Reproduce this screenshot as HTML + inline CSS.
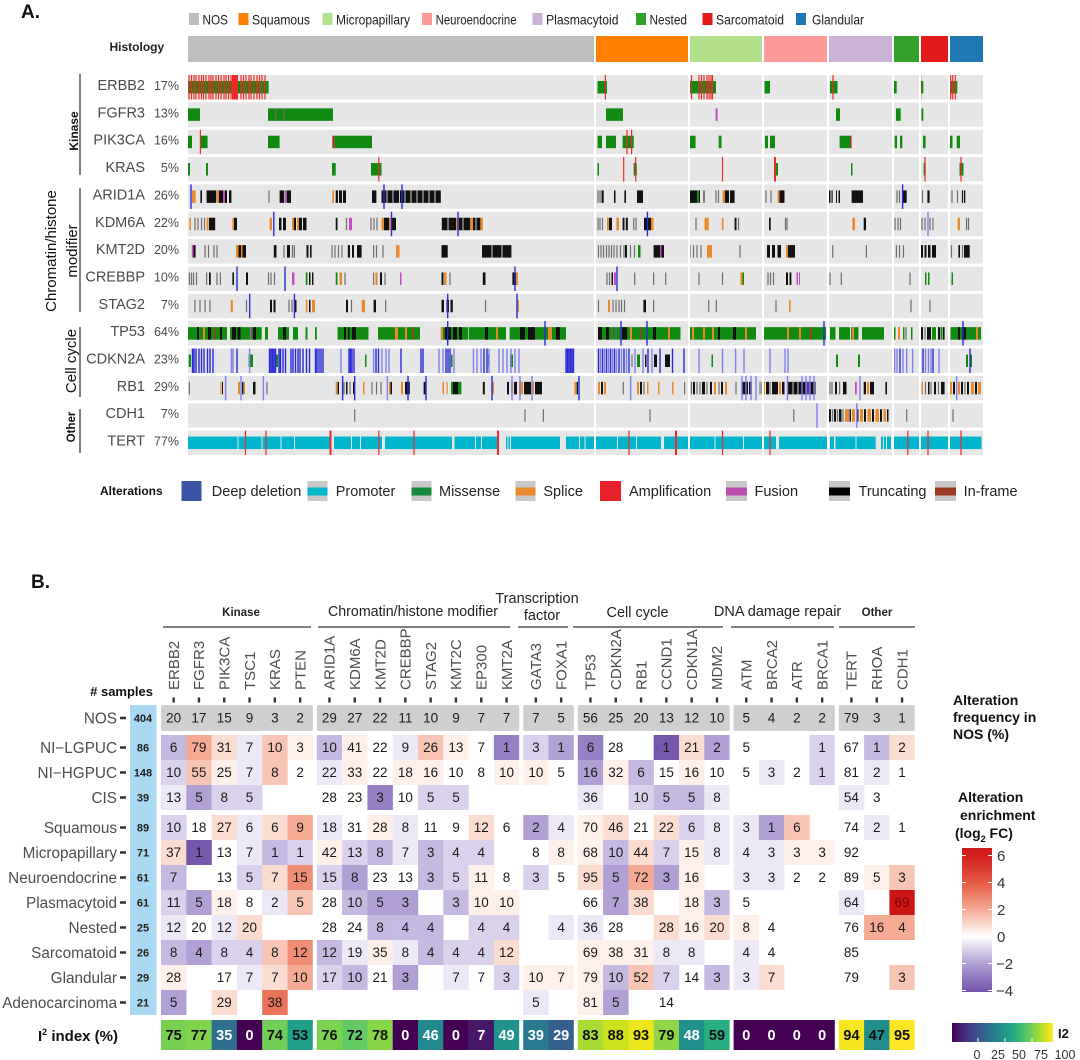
<!DOCTYPE html>
<html><head><meta charset="utf-8"><style>
html,body{margin:0;padding:0;background:#fff}
svg{display:block}
text{font-family:"Liberation Sans",Arial,sans-serif}
.G{fill:#118a11}.K{fill:#111}.O{fill:#e8892c}.C{fill:#00b5cc}.M{fill:#c04ec0}.W{fill:#9b3b22}.R{fill:#ee2b2b}
.lg{stroke:#6e6e6e;stroke-width:1.2;fill:none}
.lb{stroke:#2a2ad8;stroke-width:1.4;fill:none}
.lbl{stroke:#7f7ff0;stroke-width:1.4;fill:none}
.lr{stroke:#ee2b2b;stroke-width:1.2;fill:none}
.lm{stroke:#c04ec0;stroke-width:2;fill:none}
.lw{stroke:#fff;stroke-width:0.8;fill:none}
.bg{fill:#e6e6e6}
.n4{fill:#7557ab}.n3{fill:#9580c3}.n2{fill:#b1a0d4}.n15{fill:#c6b9e1}.n1{fill:#dad1ec}.n05{fill:#ece8f5}
.p05{fill:#fdefea}.p1{fill:#fbdcd1}.p15{fill:#f8c5b5}.p2{fill:#f4aa93}.p3{fill:#ef8e74}.p35{fill:#ea7359}.p6{fill:#cc1616}
.gl{font-size:14.5px;fill:#4a4a4a}
.pc{font-size:12.5px;fill:#4a4a4a}
.cn{font-size:13.5px;fill:#1a1a1a}
.i2{font-size:14.5px;font-weight:bold}
</style></head><body>
<svg width="1080" height="1060" viewBox="0 0 1080 1060" xmlns="http://www.w3.org/2000/svg">
<defs>
<linearGradient id="enr" x1="0" y1="0" x2="0" y2="1">
<stop offset="0" stop-color="#cc1a1a"/><stop offset="0.052" stop-color="#d21f1f"/><stop offset="0.24" stop-color="#e55a45"/><stop offset="0.427" stop-color="#f5aa93"/><stop offset="0.615" stop-color="#ffffff"/><stop offset="0.802" stop-color="#b1a0d4"/><stop offset="0.99" stop-color="#7557ab"/><stop offset="1" stop-color="#7254a9"/>
</linearGradient>
<linearGradient id="vir" x1="0" y1="0" x2="1" y2="0">
<stop offset="0" stop-color="#440154"/><stop offset="0.1" stop-color="#482475"/><stop offset="0.2" stop-color="#414487"/><stop offset="0.3" stop-color="#355f8d"/><stop offset="0.4" stop-color="#2a788e"/><stop offset="0.5" stop-color="#21918c"/><stop offset="0.6" stop-color="#22a884"/><stop offset="0.7" stop-color="#44bf70"/><stop offset="0.8" stop-color="#7ad151"/><stop offset="0.9" stop-color="#bddf26"/><stop offset="1" stop-color="#fde725"/>
</linearGradient>
</defs>

<!-- ============ PANEL A ============ -->
<text x="21" y="18" font-size="19" font-weight="bold" fill="#111">A.</text>

<!-- histology legend -->
<rect x="189" y="13" width="10" height="12" fill="#bdbdbd"/><text x="202.5" y="24.5" font-size="14" fill="#222" textLength="25.5" lengthAdjust="spacingAndGlyphs">NOS</text>
<rect x="238.5" y="13" width="10" height="12" fill="#ff7f00"/><text x="252" y="24.5" font-size="14" fill="#222" textLength="58" lengthAdjust="spacingAndGlyphs">Squamous</text>
<rect x="322.5" y="13" width="10" height="12" fill="#b2df8a"/><text x="336" y="24.5" font-size="14" fill="#222" textLength="74" lengthAdjust="spacingAndGlyphs">Micropapillary</text>
<rect x="422" y="13" width="10" height="12" fill="#fb9a99"/><text x="435.6" y="24.5" font-size="14" fill="#222" textLength="81" lengthAdjust="spacingAndGlyphs">Neuroendocrine</text>
<rect x="532.5" y="13" width="10" height="12" fill="#cab2d6"/><text x="546" y="24.5" font-size="14" fill="#222" textLength="72.5" lengthAdjust="spacingAndGlyphs">Plasmacytoid</text>
<rect x="636" y="13" width="10" height="12" fill="#33a02c"/><text x="649.5" y="24.5" font-size="14" fill="#222" textLength="37.5" lengthAdjust="spacingAndGlyphs">Nested</text>
<rect x="702.5" y="13" width="10" height="12" fill="#e31a1c"/><text x="716" y="24.5" font-size="14" fill="#222" textLength="68" lengthAdjust="spacingAndGlyphs">Sarcomatoid</text>
<rect x="796" y="13" width="10" height="12" fill="#1f78b4"/><text x="812" y="24.5" font-size="14" fill="#222" textLength="52" lengthAdjust="spacingAndGlyphs">Glandular</text>

<!-- histology bar -->
<text x="109.5" y="51" font-size="12" font-weight="bold" fill="#222">Histology</text>
<rect x="188" y="36" width="406" height="26" fill="#bdbdbd"/>
<rect x="596" y="36" width="92" height="26" fill="#ff7f00"/>
<rect x="690" y="36" width="72" height="26" fill="#b2df8a"/>
<rect x="764" y="36" width="63" height="26" fill="#fb9a99"/>
<rect x="829" y="36" width="63" height="26" fill="#cab2d6"/>
<rect x="894" y="36" width="25" height="26" fill="#33a02c"/>
<rect x="921" y="36" width="27" height="26" fill="#e31a1c"/>
<rect x="950" y="36" width="33" height="26" fill="#1f78b4"/>

<!-- group labels left -->
<line x1="80" y1="74" x2="80" y2="175" stroke="#555" stroke-width="1.5"/>
<text transform="translate(78,131) rotate(-90)" text-anchor="middle" font-size="12" font-weight="bold" fill="#111">Kinase</text>
<line x1="80" y1="188" x2="80" y2="312" stroke="#555" stroke-width="1.5"/>
<text transform="translate(56,251) rotate(-90)" text-anchor="middle" font-size="15" fill="#111">Chromatin/histone</text>
<text transform="translate(77,251) rotate(-90)" text-anchor="middle" font-size="15" fill="#111">modifier</text>
<line x1="80" y1="327" x2="80" y2="397" stroke="#555" stroke-width="1.5"/>
<text transform="translate(76,361) rotate(-90)" text-anchor="middle" font-size="15" fill="#111">Cell cycle</text>
<line x1="80" y1="409" x2="80" y2="453" stroke="#555" stroke-width="1.5"/>
<text transform="translate(75,427) rotate(-90)" text-anchor="middle" font-size="11.5" font-weight="bold" fill="#111">Other</text>

<!-- gene labels -->
<g text-anchor="end">
<text class="gl" x="145" y="90">ERBB2</text><text class="pc" x="179" y="90">17%</text>
<text class="gl" x="145" y="117.4">FGFR3</text><text class="pc" x="179" y="117.4">13%</text>
<text class="gl" x="145" y="144.7">PIK3CA</text><text class="pc" x="179" y="144.7">16%</text>
<text class="gl" x="145" y="172">KRAS</text><text class="pc" x="179" y="172">5%</text>
<text class="gl" x="145" y="199.4">ARID1A</text><text class="pc" x="179" y="199.4">26%</text>
<text class="gl" x="145" y="226.8">KDM6A</text><text class="pc" x="179" y="226.8">22%</text>
<text class="gl" x="145" y="254.1">KMT2D</text><text class="pc" x="179" y="254.1">20%</text>
<text class="gl" x="145" y="281.5">CREBBP</text><text class="pc" x="179" y="281.5">10%</text>
<text class="gl" x="145" y="308.8">STAG2</text><text class="pc" x="179" y="308.8">7%</text>
<text class="gl" x="145" y="336.2">TP53</text><text class="pc" x="179" y="336.2">64%</text>
<text class="gl" x="145" y="363.5">CDKN2A</text><text class="pc" x="179" y="363.5">23%</text>
<text class="gl" x="145" y="390.9">RB1</text><text class="pc" x="179" y="390.9">29%</text>
<text class="gl" x="145" y="418.2">CDH1</text><text class="pc" x="179" y="418.2">7%</text>
<text class="gl" x="145" y="445.6">TERT</text><text class="pc" x="179" y="445.6">77%</text>
</g>

<!-- Row 0 ERBB2 -->
<g transform="translate(0,75)">
<rect class="bg" x="188" width="795" height="24.5"/>
<rect x="188" y="6" width="80.6" height="12.5" class="G"/>
<rect x="232" width="6" height="24.5" class="R"/>
<path class="lr" d="M189 0v24.5M191.5 0v24.5M194 0v24.5M196 0v24.5M199 0v24.5M201.5 0v24.5M203.5 0v24.5M206 0v24.5M209 0v24.5M211 0v24.5M213 0v24.5M216 0v24.5M218.5 0v24.5M221 0v24.5M224 0v24.5M226 0v24.5M228.5 0v24.5M231 0v24.5M241 0v24.5M243.5 0v24.5M246 0v24.5M249 0v24.5M251 0v24.5M254 0v24.5M257 0v24.5M259.5 0v24.5M262 0v24.5M265 0v24.5"/>
<rect x="597.5" y="6" width="9.5" height="12.5" class="G"/>
<rect x="689.5" y="6" width="26.5" height="12.5" class="G"/>
<rect x="764.5" y="6" width="5.5" height="12.5" class="G"/>
<rect x="830" y="6" width="7.5" height="12.5" class="G"/>
<rect x="894" y="6" width="2.7" height="12.5" class="G"/>
<rect x="921" y="6" width="2.3" height="12.5" class="G"/>
<rect x="950" y="6" width="7.3" height="12.5" class="G"/>
<path class="lr" d="M605.4 0v24.5M691.5 0v24.5M699 0v24.5M701.5 0v24.5M704 0v24.5M707 0v24.5M709 0v24.5M711 0v24.5M712.5 0v24.5M833 0v24.5M893.3 0v24.5M920.7 0v24.5M950.7 0v24.5M952.7 0v24.5M955.3 0v24.5"/>
</g>

<!-- Row 1 FGFR3 -->
<g transform="translate(0,102.35)">
<rect class="bg" x="188" width="795" height="24.5"/>
<rect x="188" y="6" width="12" height="12.5" class="G"/>
<rect x="268" y="6" width="65" height="12.5" class="G"/>
<path class="lg" d="M275.5 6v12.5M284 6v12.5"/>
<rect x="606" y="6" width="17" height="12.5" class="G"/>
<path class="lm" d="M716.6 6v12.5"/>
<rect x="836" y="6" width="4" height="12.5" class="G"/>
<rect x="896" y="6" width="4.7" height="12.5" class="G"/>
<rect x="921.5" y="6" width="1.8" height="12.5" class="G"/>
</g>

<!-- Row 2 PIK3CA -->
<g transform="translate(0,129.7)">
<rect class="bg" x="188" width="795" height="24.5"/>
<rect x="188" y="6" width="4" height="12.5" class="G"/>
<rect x="200.4" y="6" width="7.2" height="12.5" class="G"/>
<rect x="268" y="6" width="11.6" height="12.5" class="G"/>
<rect x="332.3" y="6" width="2.4" height="12.5" class="W"/>
<rect x="334.7" y="6" width="37.3" height="12.5" class="G"/>
<rect x="597.5" y="6" width="4.5" height="12.5" class="G"/>
<rect x="606" y="6" width="10" height="12.5" class="G"/>
<rect x="622.6" y="6" width="11.1" height="12.5" class="G"/>
<rect x="689" y="6" width="6.6" height="12.5" class="G"/>
<rect x="718.7" y="6" width="2.8" height="12.5" class="G"/>
<rect x="765" y="6" width="3" height="12.5" class="G"/>
<rect x="770" y="6" width="5" height="12.5" class="G"/>
<rect x="839.6" y="6" width="10.4" height="12.5" class="G"/>
<rect x="850" y="6" width="1.6" height="12.5" class="W"/>
<rect x="894.7" y="6" width="2.3" height="12.5" class="G"/>
<rect x="900" y="6" width="2.3" height="12.5" class="G"/>
<rect x="923" y="6" width="2.6" height="12.5" class="G"/>
<rect x="950" y="6" width="2.5" height="12.5" class="G"/>
<rect x="956.7" y="6" width="3.3" height="12.5" class="G"/>
<path class="lr" d="M200.4 0v24.5M627 0v24.5M631.6 0v24.5"/>
</g>

<!-- Row 3 KRAS -->
<g transform="translate(0,157.05)">
<rect class="bg" x="188" width="795" height="24.5"/>
<rect x="188" y="6" width="2" height="12.5" class="G"/>
<rect x="206" y="6" width="2" height="12.5" class="G"/>
<rect x="332" y="6" width="3.7" height="12.5" class="G"/>
<rect x="371" y="6" width="10.5" height="12.5" class="G"/>
<rect x="597.5" y="6" width="1.5" height="12.5" class="G"/>
<rect x="633.7" y="6" width="3.1" height="12.5" class="G"/>
<rect x="774" width="2" height="24.5" class="R"/>
<rect x="776" y="6" width="2" height="12.5" class="G"/>
<rect x="851" y="6" width="1.5" height="12.5" class="G"/>
<rect x="923.6" y="6" width="2" height="12.5" class="G"/>
<rect x="959.5" y="6" width="4" height="12.5" class="G"/>
<path class="lr" d="M378.8 0v24.5M623.7 0v24.5M635.7 0v24.5M722.5 0v24.5M925 0v24.5M961 0v24.5"/>
</g>

<!-- Row 4 ARID1A -->
<g transform="translate(0,184.4)">
<rect class="bg" x="188" width="795" height="24.5"/>
<rect x="192" y="6" width="3.6" height="12.5" class="O"/>
<rect x="200.4" y="6" width="1.6" height="12.5" class="K"/>
<rect x="206.6" y="6" width="9.7" height="12.5" class="K"/>
<rect x="217" y="6" width="2" height="12.5" class="O"/>
<rect x="219" y="6" width="4" height="12.5" class="K"/>
<rect x="223" y="6" width="2" height="12.5" class="M"/>
<rect x="225" y="6" width="2" height="12.5" class="K"/>
<rect x="229" y="6" width="2.4" height="12.5" class="K"/>
<rect x="279.6" y="6" width="4.4" height="12.5" class="K"/>
<rect x="284.5" y="6" width="1.5" height="12.5" class="M"/>
<rect x="286.5" y="6" width="4.5" height="12.5" class="K"/>
<rect x="332.3" y="6" width="1.7" height="12.5" class="O"/>
<rect x="335.7" y="6" width="2.3" height="12.5" class="K"/>
<rect x="339" y="6" width="3" height="12.5" class="K"/>
<rect x="343" y="6" width="3" height="12.5" class="K"/>
<rect x="372" y="6" width="4.4" height="12.5" class="K"/>
<rect x="381.5" y="6" width="59.3" height="12.5" class="K"/>
<path class="lw" d="M387 6v12.5M393 6v12.5M399.5 6v12.5M405 6v12.5M411 6v12.5M417 6v12.5M423 6v12.5M429 6v12.5M435 6v12.5"/>
<rect x="601.5" y="6" width="2.2" height="12.5" class="K"/>
<rect x="614" y="6" width="1.5" height="12.5" class="K"/>
<rect x="624.4" y="6" width="1.6" height="12.5" class="K"/>
<rect x="637" y="6" width="6" height="12.5" class="K"/>
<rect x="690" y="6" width="7" height="12.5" class="K"/>
<rect x="697" y="6" width="2" height="12.5" class="G"/>
<rect x="699" y="6" width="1" height="12.5" class="K"/>
<rect x="703.5" y="6" width="1" height="12.5" class="K"/>
<rect x="722.5" y="6" width="2.5" height="12.5" class="O"/>
<rect x="725" y="6" width="4" height="12.5" class="K"/>
<rect x="730" y="6" width="4.6" height="12.5" class="K"/>
<rect x="777.6" y="6" width="1.9" height="12.5" class="O"/>
<rect x="779.5" y="6" width="5" height="12.5" class="K"/>
<rect x="829" y="6" width="1.5" height="12.5" class="K"/>
<rect x="831.5" y="6" width="1.2" height="12.5" class="K"/>
<rect x="836" y="6" width="1" height="12.5" class="K"/>
<rect x="838.5" y="6" width="1.5" height="12.5" class="K"/>
<rect x="851.6" y="6" width="11.4" height="12.5" class="K"/>
<rect x="903" y="6" width="3.7" height="12.5" class="K"/>
<rect x="927.4" y="6" width="2.2" height="12.5" class="K"/>
<rect x="961.9" y="6" width="1.2" height="12.5" class="K"/>
<rect x="964" y="6" width="1.3" height="12.5" class="K"/>
<path class="lg" d="M269 6v12.5M598 6v12.5M600 6v12.5M716 6v12.5M718.5 6v12.5M766 6v12.5M771 6v12.5M897 6v12.5M899.5 6v12.5M922.5 6v12.5M952 6v12.5M957.5 6v12.5"/>
<path class="lb" d="M191 0v24.5M384 0v24.5M402 0v24.5M902.6 0v24.5"/>
</g>

<!-- Row 5 KDM6A -->
<g transform="translate(0,211.75)">
<rect class="bg" x="188" width="795" height="24.5"/>
<rect x="189.4" y="6" width="1.6" height="12.5" class="O"/>
<rect x="206.6" y="6" width="1.9" height="12.5" class="O"/>
<rect x="209" y="6" width="6.2" height="12.5" class="K"/>
<rect x="232.4" y="6" width="1.6" height="12.5" class="O"/>
<rect x="234" y="6" width="3" height="12.5" class="K"/>
<rect x="269.6" y="6" width="2.4" height="12.5" class="O"/>
<rect x="279" y="6" width="2.5" height="12.5" class="K"/>
<rect x="283" y="6" width="3" height="12.5" class="K"/>
<rect x="292" y="6" width="2" height="12.5" class="O"/>
<rect x="294" y="6" width="2" height="12.5" class="K"/>
<rect x="297" y="6" width="2" height="12.5" class="O"/>
<rect x="299" y="6" width="3" height="12.5" class="K"/>
<rect x="303" y="6" width="3.5" height="12.5" class="K"/>
<rect x="335.7" y="6" width="1.8" height="12.5" class="K"/>
<rect x="349" y="6" width="3" height="12.5" class="M"/>
<rect x="381.5" y="6" width="2.5" height="12.5" class="O"/>
<rect x="384" y="6" width="5" height="12.5" class="K"/>
<rect x="389" y="6" width="2" height="12.5" class="O"/>
<rect x="391" y="6" width="5" height="12.5" class="K"/>
<rect x="441.8" y="6" width="14.2" height="12.5" class="K"/>
<rect x="456" y="6" width="3" height="12.5" class="O"/>
<rect x="459" y="6" width="11" height="12.5" class="K"/>
<rect x="470" y="6" width="3" height="12.5" class="O"/>
<rect x="473" y="6" width="7.4" height="12.5" class="K"/>
<rect x="480.4" y="6" width="2.4" height="12.5" class="O"/>
<path class="lw" d="M448 6v12.5M463 6v12.5M476 6v12.5"/>
<rect x="607" y="6" width="2" height="12.5" class="O"/>
<rect x="609" y="6" width="3" height="12.5" class="K"/>
<rect x="616.4" y="6" width="2.6" height="12.5" class="O"/>
<rect x="622.6" y="6" width="1.9" height="12.5" class="K"/>
<rect x="625.8" y="6" width="2" height="12.5" class="K"/>
<rect x="644" y="6" width="7" height="12.5" class="K"/>
<rect x="651" y="6" width="2.6" height="12.5" class="O"/>
<rect x="704.6" y="6" width="4.1" height="12.5" class="O"/>
<rect x="721.8" y="6" width="1.7" height="12.5" class="O"/>
<rect x="734.6" y="6" width="1.9" height="12.5" class="K"/>
<rect x="769" y="6" width="1.7" height="12.5" class="K"/>
<rect x="852.3" y="6" width="2.7" height="12.5" class="O"/>
<rect x="863.7" y="6" width="2.3" height="12.5" class="K"/>
<rect x="957.7" y="6" width="2.3" height="12.5" class="O"/>
<path class="lg" d="M195 6v12.5M198 6v12.5M201.5 6v12.5M204.5 6v12.5M346.5 6v12.5M371 6v12.5M374 6v12.5M377 6v12.5M598 6v12.5M600 6v12.5M602.5 6v12.5M633.7 6v12.5M636 6v12.5M696 6v12.5M738.5 6v12.5M785.5 6v12.5M787 6v12.5M895 6v12.5M898 6v12.5M900.5 6v12.5M922 6v12.5M925 6v12.5M930 6v12.5M933 6v12.5M966.5 6v12.5M968.5 6v12.5"/>
<path class="lb" d="M273.8 0v24.5M391.5 0v24.5M458 0v24.5M647.4 0v24.5"/>
<path class="lbl" d="M928 0v24.5"/>
</g>

<!-- Row 6 KMT2D -->
<g transform="translate(0,239.1)">
<rect class="bg" x="188" width="795" height="24.5"/>
<rect x="191.8" y="6" width="1.7" height="12.5" class="M"/>
<rect x="193.5" y="6" width="2.1" height="12.5" class="K"/>
<rect x="236" y="6" width="2.5" height="12.5" class="O"/>
<rect x="238.5" y="6" width="2.5" height="12.5" class="K"/>
<rect x="241" y="6" width="1.5" height="12.5" class="O"/>
<rect x="242.5" y="6" width="3.5" height="12.5" class="K"/>
<rect x="273.8" y="6" width="2.7" height="12.5" class="K"/>
<rect x="287" y="6" width="3" height="12.5" class="K"/>
<rect x="306.5" y="6" width="2" height="12.5" class="K"/>
<rect x="310" y="6" width="1.6" height="12.5" class="K"/>
<rect x="347.8" y="6" width="2.2" height="12.5" class="K"/>
<rect x="352" y="6" width="2" height="12.5" class="K"/>
<rect x="357" y="6" width="4.6" height="12.5" class="K"/>
<rect x="396" y="6" width="3.5" height="12.5" class="O"/>
<rect x="441.5" y="6" width="6.2" height="12.5" class="K"/>
<rect x="482" y="6" width="29.4" height="12.5" class="K"/>
<path class="lw" d="M492 6v12.5M502 6v12.5"/>
<rect x="625" y="6" width="2" height="12.5" class="K"/>
<rect x="638" y="6" width="2.5" height="12.5" class="G"/>
<rect x="653.6" y="6" width="6.4" height="12.5" class="K"/>
<rect x="660" y="6" width="1.5" height="12.5" class="M"/>
<rect x="661.5" y="6" width="2.5" height="12.5" class="K"/>
<rect x="707" y="6" width="5" height="12.5" class="O"/>
<rect x="767" y="6" width="3" height="12.5" class="K"/>
<rect x="772" y="6" width="3" height="12.5" class="K"/>
<rect x="777.5" y="6" width="3.5" height="12.5" class="K"/>
<rect x="786" y="6" width="2" height="12.5" class="O"/>
<rect x="788" y="6" width="7" height="12.5" class="K"/>
<rect x="920.5" y="6" width="2.5" height="12.5" class="K"/>
<rect x="924.5" y="6" width="2" height="12.5" class="K"/>
<rect x="928" y="6" width="2.5" height="12.5" class="K"/>
<rect x="932" y="6" width="4" height="12.5" class="K"/>
<rect x="958.4" y="6" width="1.6" height="12.5" class="K"/>
<rect x="964" y="6" width="5.7" height="12.5" class="K"/>
<path class="lg" d="M205 6v12.5M208.5 6v12.5M214 6v12.5M217 6v12.5M284 6v12.5M292.5 6v12.5M294.4 6v12.5M332 6v12.5M335 6v12.5M338.5 6v12.5M342 6v12.5M373.6 6v12.5M376.5 6v12.5M383 6v12.5M598.5 6v12.5M601 6v12.5M603.5 6v12.5M606.5 6v12.5M609 6v12.5M611.5 6v12.5M614 6v12.5M617 6v12.5M620.5 6v12.5M624 6v12.5M630.5 6v12.5M634.5 6v12.5M690 6v12.5M693.5 6v12.5M697 6v12.5M701 6v12.5M740 6v12.5M832.7 6v12.5M866.4 6v12.5M896.4 6v12.5M899.5 6v12.5M903.5 6v12.5M951.5 6v12.5M962.5 6v12.5"/>
</g>

<!-- Row 7 CREBBP -->
<g transform="translate(0,266.45)">
<rect class="bg" x="188" width="795" height="24.5"/>
<rect x="209" y="6" width="1.7" height="12.5" class="K"/>
<rect x="232.4" y="6" width="1.6" height="12.5" class="K"/>
<rect x="246" y="6" width="2" height="12.5" class="K"/>
<rect x="292" y="6" width="2.4" height="12.5" class="M"/>
<rect x="305.8" y="6" width="1.7" height="12.5" class="G"/>
<rect x="309" y="6" width="1.5" height="12.5" class="K"/>
<rect x="312" y="6" width="1.4" height="12.5" class="K"/>
<rect x="335.7" y="6" width="1.8" height="12.5" class="G"/>
<rect x="339.5" y="6" width="2.5" height="12.5" class="O"/>
<rect x="375.5" y="6" width="2" height="12.5" class="O"/>
<rect x="380" y="6" width="2" height="12.5" class="K"/>
<rect x="400" y="6" width="1.5" height="12.5" class="M"/>
<rect x="441.5" y="6" width="2" height="12.5" class="K"/>
<rect x="444" y="6" width="2.5" height="12.5" class="O"/>
<rect x="482.8" y="6" width="2.7" height="12.5" class="K"/>
<rect x="512.4" y="6" width="3.6" height="12.5" class="K"/>
<rect x="516" y="6" width="2" height="12.5" class="O"/>
<rect x="611.5" y="6" width="1.5" height="12.5" class="K"/>
<rect x="614" y="6" width="2" height="12.5" class="M"/>
<rect x="740.4" y="6" width="2.1" height="12.5" class="O"/>
<rect x="742.5" y="6" width="1.5" height="12.5" class="G"/>
<rect x="786" y="6" width="2" height="12.5" class="K"/>
<rect x="789.5" y="6" width="1.9" height="12.5" class="K"/>
<rect x="796.5" y="6" width="1.5" height="12.5" class="M"/>
<rect x="799" y="6" width="1" height="12.5" class="M"/>
<rect x="925" y="6" width="1.5" height="12.5" class="G"/>
<rect x="928" y="6" width="1.5" height="12.5" class="G"/>
<rect x="951.5" y="6" width="1.5" height="12.5" class="G"/>
<path class="lg" d="M189.4 6v12.5M191.5 6v12.5M193.5 6v12.5M196.5 6v12.5M206.6 6v12.5M217 6v12.5M220.4 6v12.5M268.5 6v12.5M271 6v12.5M274.5 6v12.5M345 6v12.5M373.6 6v12.5M385 6v12.5M450 6v12.5M607 6v12.5M609.5 6v12.5M634.7 6v12.5M653.6 6v12.5M665.7 6v12.5M699 6v12.5M722.5 6v12.5M768 6v12.5M770.5 6v12.5M773.5 6v12.5M830 6v12.5M841.3 6v12.5M910 6v12.5"/>
<path class="lb" d="M237 0v24.5M285 0v24.5M515 0v24.5M617 0v24.5"/>
</g>

<!-- Row 8 STAG2 -->
<g transform="translate(0,293.8)">
<rect class="bg" x="188" width="795" height="24.5"/>
<rect x="230.7" y="6" width="2.1" height="12.5" class="O"/>
<rect x="270" y="6" width="2" height="12.5" class="K"/>
<rect x="273.5" y="6" width="2" height="12.5" class="K"/>
<rect x="294" y="6" width="2.5" height="12.5" class="K"/>
<rect x="305.8" y="6" width="1.7" height="12.5" class="O"/>
<rect x="309" y="6" width="1.5" height="12.5" class="K"/>
<rect x="312" y="6" width="3" height="12.5" class="O"/>
<rect x="346" y="6" width="2" height="12.5" class="K"/>
<rect x="361.6" y="6" width="3.4" height="12.5" class="O"/>
<rect x="373.6" y="6" width="2.4" height="12.5" class="K"/>
<rect x="441.5" y="6" width="2.5" height="12.5" class="K"/>
<rect x="446.5" y="6" width="2.5" height="12.5" class="K"/>
<rect x="450.5" y="6" width="2.3" height="12.5" class="K"/>
<rect x="516.5" y="6" width="2.5" height="12.5" class="O"/>
<rect x="608" y="6" width="2" height="12.5" class="O"/>
<rect x="643.4" y="6" width="2.6" height="12.5" class="K"/>
<rect x="789" y="6" width="1.6" height="12.5" class="O"/>
<path class="lg" d="M195 6v12.5M200 6v12.5M205 6v12.5M210 6v12.5M246.5 6v12.5M289 6v12.5M292 6v12.5M351.5 6v12.5M385.7 6v12.5M485.5 6v12.5M598.5 6v12.5M613 6v12.5M616 6v12.5M619 6v12.5M621.5 6v12.5M624.5 6v12.5M653.6 6v12.5M708.7 6v12.5M716.3 6v12.5M776 6v12.5M911 6v12.5M930 6v12.5"/>
<path class="lb" d="M249.7 0v24.5M294.4 0v24.5M447.7 0v24.5M517 0v24.5"/>
</g>

<!-- Row 9 TP53 -->
<g transform="translate(0,321.15)">
<rect class="bg" x="188" width="795" height="24.5"/>
<rect x="188" y="6" width="39" height="12.5" class="G"/>
<rect x="197" y="6" width="2" height="12.5" class="K"/>
<rect x="203" y="6" width="2" height="12.5" class="O"/>
<rect x="208" y="6" width="3" height="12.5" class="K"/>
<rect x="214" y="6" width="1.5" height="12.5" class="W"/>
<rect x="220" y="6" width="2" height="12.5" class="K"/>
<rect x="230" y="6" width="31.7" height="12.5" class="G"/>
<rect x="232" y="6" width="4" height="12.5" class="K"/>
<rect x="237.5" y="6" width="3" height="12.5" class="K"/>
<rect x="250" y="6" width="1.2" height="12.5" class="M"/>
<rect x="253" y="6" width="3" height="12.5" class="K"/>
<rect x="265" y="6" width="3" height="12.5" class="G"/>
<rect x="278" y="6" width="11" height="12.5" class="G"/>
<rect x="283" y="6" width="3" height="12.5" class="K"/>
<rect x="293" y="6" width="5" height="12.5" class="G"/>
<rect x="305.5" y="6" width="2" height="12.5" class="G"/>
<rect x="315" y="6" width="1.8" height="12.5" class="G"/>
<rect x="337.5" y="6" width="31" height="12.5" class="G"/>
<rect x="344" y="6" width="2" height="12.5" class="K"/>
<rect x="348" y="6" width="1.5" height="12.5" class="K"/>
<rect x="352" y="6" width="4" height="12.5" class="K"/>
<rect x="378" y="6" width="42" height="12.5" class="G"/>
<rect x="395" y="6" width="3" height="12.5" class="O"/>
<rect x="405" y="6" width="2" height="12.5" class="O"/>
<rect x="412" y="6" width="1.5" height="12.5" class="W"/>
<rect x="440.8" y="6" width="27.5" height="12.5" class="G"/>
<rect x="441" y="6" width="2" height="12.5" class="O"/>
<rect x="445" y="6" width="6" height="12.5" class="K"/>
<rect x="453" y="6" width="4" height="12.5" class="K"/>
<rect x="459" y="6" width="3" height="12.5" class="K"/>
<rect x="469" y="6" width="37" height="12.5" class="G"/>
<rect x="485" y="6" width="3" height="12.5" class="K"/>
<rect x="496" y="6" width="2" height="12.5" class="O"/>
<rect x="509.6" y="6" width="56.4" height="12.5" class="G"/>
<rect x="520" y="6" width="5" height="12.5" class="K"/>
<rect x="528" y="6" width="7" height="12.5" class="K"/>
<rect x="548" y="6" width="4" height="12.5" class="O"/>
<rect x="556" y="6" width="4" height="12.5" class="K"/>
<rect x="598" y="6" width="82.5" height="12.5" class="G"/>
<rect x="598" y="6" width="4" height="12.5" class="K"/>
<rect x="606" y="6" width="3" height="12.5" class="K"/>
<rect x="622" y="6" width="5" height="12.5" class="K"/>
<rect x="630" y="6" width="2" height="12.5" class="O"/>
<rect x="640" y="6" width="1.5" height="12.5" class="W"/>
<rect x="653" y="6" width="3" height="12.5" class="K"/>
<rect x="668" y="6" width="2" height="12.5" class="O"/>
<rect x="689" y="6" width="67" height="12.5" class="G"/>
<rect x="692" y="6" width="2" height="12.5" class="O"/>
<rect x="703" y="6" width="2" height="12.5" class="O"/>
<rect x="712" y="6" width="2" height="12.5" class="O"/>
<rect x="718" y="6" width="2" height="12.5" class="K"/>
<rect x="733" y="6" width="3" height="12.5" class="K"/>
<rect x="745" y="6" width="2" height="12.5" class="O"/>
<rect x="764" y="6" width="62" height="12.5" class="G"/>
<rect x="787" y="6" width="2" height="12.5" class="O"/>
<rect x="799" y="6" width="2" height="12.5" class="O"/>
<rect x="810" y="6" width="2" height="12.5" class="W"/>
<rect x="830" y="6" width="5.5" height="12.5" class="G"/>
<rect x="839" y="6" width="11" height="12.5" class="G"/>
<rect x="851" y="6" width="7.5" height="12.5" class="G"/>
<rect x="852" y="6" width="2" height="12.5" class="O"/>
<rect x="862" y="6" width="22" height="12.5" class="G"/>
<rect x="894" y="6" width="1.5" height="12.5" class="G"/>
<rect x="898" y="6" width="2" height="12.5" class="O"/>
<rect x="903" y="6" width="1.5" height="12.5" class="G"/>
<rect x="911" y="6" width="1.5" height="12.5" class="G"/>
<rect x="921" y="6" width="2" height="12.5" class="K"/>
<rect x="927" y="6" width="4" height="12.5" class="K"/>
<rect x="932" y="6" width="4" height="12.5" class="G"/>
<rect x="938" y="6" width="2" height="12.5" class="K"/>
<rect x="940.5" y="6" width="2" height="12.5" class="G"/>
<rect x="943" y="6" width="1.6" height="12.5" class="K"/>
<rect x="950.5" y="6" width="30.5" height="12.5" class="G"/>
<rect x="958" y="6" width="2" height="12.5" class="K"/>
<rect x="962" y="6" width="4" height="12.5" class="K"/>
<rect x="976" y="6" width="2" height="12.5" class="O"/>
<path class="lg" d="M612 6v12.5M616 6v12.5M906 6v12.5M925 6v12.5"/>
<path class="lb" d="M447.7 0v24.5M545 0v24.5M621 0v24.5M647 0v24.5M824 0v24.5M963 0v24.5"/>
</g>

<!-- Row 10 CDKN2A -->
<g transform="translate(0,348.5)">
<rect class="bg" x="188" width="795" height="24.5"/>
<rect x="188.7" y="6" width="2.3" height="12.5" class="G"/>
<rect x="248.6" y="6" width="4.4" height="12.5" class="G"/>
<rect x="276" y="6" width="2" height="12.5" class="G"/>
<rect x="365" y="6" width="1.5" height="12.5" class="G"/>
<rect x="451" y="6" width="1.5" height="12.5" class="G"/>
<rect x="488" y="6" width="1.5" height="12.5" class="G"/>
<rect x="510" y="6" width="3" height="12.5" class="G"/>
<rect x="637" y="6" width="3" height="12.5" class="G"/>
<rect x="645" y="6" width="1.5" height="12.5" class="K"/>
<rect x="654" y="6" width="3" height="12.5" class="K"/>
<rect x="665" y="6" width="5" height="12.5" class="K"/>
<rect x="711.5" y="6" width="1.5" height="12.5" class="G"/>
<rect x="836" y="6" width="2" height="12.5" class="G"/>
<rect x="858" y="6" width="2" height="12.5" class="G"/>
<rect x="966" y="6" width="2" height="12.5" class="G"/>
<rect x="970" y="6" width="2" height="12.5" class="G"/>
<path class="lg" d="M632 6v12.5"/>
<path class="lb" d="M192.5 0v24.5M194 0v24.5M196 0v24.5M199 0v24.5M201.5 0v24.5M204 0v24.5M207.5 0v24.5M210 0v24.5M213 0v24.5M237 0v24.5M269.5 0v24.5M271 0v24.5M272.5 0v24.5M274 0v24.5M275.5 0v24.5M279 0v24.5M280.5 0v24.5M283 0v24.5M285.5 0v24.5M291 0v24.5M293 0v24.5M295.5 0v24.5M298 0v24.5M300 0v24.5M303 0v24.5M306.5 0v24.5M309.5 0v24.5M315.5 0v24.5M317 0v24.5M319 0v24.5M321 0v24.5M323 0v24.5M349 0v24.5M350.5 0v24.5M352 0v24.5M354 0v24.5M376 0v24.5M378.5 0v24.5M401 0v24.5M421 0v24.5M423 0v24.5M446 0v24.5M448 0v24.5M450 0v24.5M484 0v24.5M487 0v24.5M566 0v24.5M567.5 0v24.5M569 0v24.5M570.5 0v24.5M572 0v24.5M573.5 0v24.5M598.5 0v24.5M602.5 0v24.5M606.5 0v24.5M610.5 0v24.5M614.5 0v24.5M619 0v24.5M624 0v24.5M629 0v24.5M648 0v24.5M660 0v24.5M672.5 0v24.5M684 0v24.5M900 0v24.5M923 0v24.5M933 0v24.5M970 0v24.5"/>
<path class="lbl" d="M231.4 0v24.5M233 0v24.5M249.6 0v24.5M341 0v24.5M373.6 0v24.5M382 0v24.5M386 0v24.5M389 0v24.5M439 0v24.5M443 0v24.5M454 0v24.5M473.5 0v24.5M477 0v24.5M481 0v24.5M489 0v24.5M499 0v24.5M503 0v24.5M507 0v24.5M511 0v24.5M515 0v24.5M519 0v24.5M600.5 0v24.5M604.5 0v24.5M608.5 0v24.5M612.5 0v24.5M616.5 0v24.5M621.5 0v24.5M626.5 0v24.5M635 0v24.5M643 0v24.5M652 0v24.5M699 0v24.5M722.5 0v24.5M735.6 0v24.5M744 0v24.5M770 0v24.5M785 0v24.5M788 0v24.5M894.7 0v24.5M897 0v24.5M903 0v24.5M906.7 0v24.5M912.6 0v24.5M920.5 0v24.5M925.5 0v24.5M928.5 0v24.5M931 0v24.5M939 0v24.5"/>
</g>

<!-- Row 11 RB1 -->
<g transform="translate(0,375.85)">
<rect class="bg" x="188" width="795" height="24.5"/>
<rect x="220.4" y="6" width="1.1" height="12.5" class="O"/>
<rect x="222" y="6" width="1" height="12.5" class="K"/>
<rect x="238" y="6" width="2" height="12.5" class="O"/>
<rect x="242" y="6" width="1.5" height="12.5" class="K"/>
<rect x="244" y="6" width="1" height="12.5" class="O"/>
<rect x="253" y="6" width="2.5" height="12.5" class="K"/>
<rect x="335.7" y="6" width="1.3" height="12.5" class="O"/>
<rect x="337.5" y="6" width="1.5" height="12.5" class="K"/>
<rect x="346" y="6" width="1.5" height="12.5" class="K"/>
<rect x="353" y="6" width="2" height="12.5" class="K"/>
<rect x="363" y="6" width="1.5" height="12.5" class="O"/>
<rect x="389" y="6" width="1.5" height="12.5" class="O"/>
<rect x="390.5" y="6" width="1.5" height="12.5" class="K"/>
<rect x="401" y="6" width="2" height="12.5" class="O"/>
<rect x="405" y="6" width="4.8" height="12.5" class="K"/>
<rect x="423.6" y="6" width="2.4" height="12.5" class="K"/>
<rect x="442.5" y="6" width="1.5" height="12.5" class="O"/>
<rect x="446.5" y="6" width="1.2" height="12.5" class="O"/>
<rect x="451" y="6" width="2" height="12.5" class="G"/>
<rect x="453" y="6" width="5" height="12.5" class="K"/>
<rect x="458" y="6" width="3.4" height="12.5" class="G"/>
<rect x="482.8" y="6" width="2" height="12.5" class="K"/>
<rect x="492.4" y="6" width="1.6" height="12.5" class="O"/>
<rect x="507" y="6" width="2" height="12.5" class="K"/>
<rect x="511" y="6" width="2" height="12.5" class="O"/>
<rect x="514" y="6" width="3" height="12.5" class="K"/>
<rect x="519" y="6" width="4" height="12.5" class="O"/>
<rect x="524" y="6" width="7" height="12.5" class="K"/>
<rect x="532" y="6" width="2" height="12.5" class="O"/>
<rect x="535" y="6" width="7" height="12.5" class="K"/>
<rect x="574.4" y="6" width="1.6" height="12.5" class="O"/>
<rect x="576.5" y="6" width="1.5" height="12.5" class="K"/>
<rect x="598" y="6" width="2" height="12.5" class="O"/>
<rect x="601" y="6" width="2" height="12.5" class="K"/>
<rect x="604" y="6" width="2" height="12.5" class="O"/>
<rect x="637" y="6" width="2" height="12.5" class="O"/>
<rect x="640" y="6" width="2" height="12.5" class="K"/>
<rect x="647" y="6" width="1.5" height="12.5" class="O"/>
<rect x="658" y="6" width="1.5" height="12.5" class="O"/>
<rect x="672" y="6" width="1.5" height="12.5" class="O"/>
<rect x="693" y="6" width="2" height="12.5" class="K"/>
<rect x="702" y="6" width="3" height="12.5" class="K"/>
<rect x="710" y="6" width="2" height="12.5" class="K"/>
<rect x="714" y="6" width="2" height="12.5" class="O"/>
<rect x="721" y="6" width="2" height="12.5" class="K"/>
<rect x="725" y="6" width="2" height="12.5" class="O"/>
<rect x="741.4" y="6" width="6.6" height="12.5" class="K"/>
<rect x="749" y="6" width="2.8" height="12.5" class="K"/>
<rect x="763" y="6" width="2" height="12.5" class="O"/>
<rect x="766" y="6" width="3" height="12.5" class="K"/>
<rect x="772" y="6" width="6" height="12.5" class="K"/>
<rect x="779" y="6" width="2" height="12.5" class="O"/>
<rect x="782" y="6" width="2.5" height="12.5" class="K"/>
<rect x="788" y="6" width="27.5" height="12.5" class="K"/>
<rect x="806" y="6" width="4" height="12.5" fill="#6a2aa0"/>
<path class="lw" d="M793 6v12.5M798 6v12.5"/>
<rect x="835" y="6" width="2" height="12.5" class="K"/>
<rect x="843" y="6" width="3.5" height="12.5" class="K"/>
<rect x="855" y="6" width="1.8" height="12.5" class="M"/>
<rect x="863.7" y="6" width="2.3" height="12.5" class="K"/>
<rect x="867" y="6" width="2" height="12.5" class="O"/>
<rect x="870" y="6" width="4" height="12.5" class="K"/>
<rect x="885.4" y="6" width="1.6" height="12.5" class="K"/>
<rect x="921.5" y="6" width="1.5" height="12.5" class="O"/>
<rect x="928" y="6" width="1.5" height="12.5" class="K"/>
<rect x="934" y="6" width="2" height="12.5" class="K"/>
<rect x="941" y="6" width="3.6" height="12.5" class="K"/>
<rect x="950" y="6" width="2" height="12.5" class="O"/>
<rect x="953" y="6" width="2" height="12.5" class="K"/>
<rect x="958" y="6" width="2" height="12.5" class="O"/>
<rect x="961" y="6" width="2" height="12.5" class="K"/>
<rect x="967" y="6" width="2" height="12.5" class="K"/>
<rect x="971" y="6" width="3" height="12.5" class="O"/>
<rect x="975" y="6" width="2" height="12.5" class="K"/>
<rect x="978" y="6" width="3" height="12.5" class="O"/>
<path class="lg" d="M189.4 6v12.5M267 6v12.5M344 6v12.5M350 6v12.5M372 6v12.5M376.5 6v12.5M381 6v12.5M623.3 6v12.5M644 6v12.5M684.6 6v12.5M689.5 6v12.5M691.5 6v12.5M697 6v12.5M700 6v12.5M707 6v12.5M719 6v12.5M736 6v12.5M760 6v12.5M762 6v12.5M770 6v12.5M830 6v12.5M832 6v12.5M839.6 6v12.5M925.5 6v12.5M931 6v12.5M938.5 6v12.5M965 6v12.5"/>
<path class="lb" d="M342.6 0v24.5M354.7 0v24.5M408 0v24.5M426 0v24.5M492 0v24.5M579 0v24.5"/>
<path class="lbl" d="M225.6 0v24.5M241 0v24.5M263.4 0v24.5M387.4 0v24.5M512 0v24.5M520 0v24.5M532 0v24.5M630.6 0v24.5M742 0v24.5M746 0v24.5M751 0v24.5M756 0v24.5M787.5 0v24.5M802 0v24.5M806 0v24.5M810 0v24.5M814 0v24.5M860 0v24.5M956.7 0v24.5"/>
</g>

<!-- Row 12 CDH1 -->
<g transform="translate(0,403.2)">
<rect class="bg" x="188" width="795" height="24.5"/>
<rect x="829" y="6" width="2" height="12.5" class="K"/>
<rect x="834" y="6" width="2" height="12.5" class="K"/>
<rect x="839" y="6" width="2.5" height="12.5" class="K"/>
<rect x="845" y="6" width="4" height="12.5" class="O"/>
<rect x="849.5" y="6" width="1.5" height="12.5" class="K"/>
<rect x="852" y="6" width="3" height="12.5" class="O"/>
<rect x="856.5" y="6" width="2" height="12.5" class="K"/>
<rect x="860" y="6" width="3" height="12.5" class="O"/>
<rect x="864" y="6" width="2" height="12.5" class="K"/>
<rect x="867.5" y="6" width="3.5" height="12.5" class="O"/>
<rect x="872" y="6" width="2" height="12.5" class="K"/>
<rect x="875.5" y="6" width="3.5" height="12.5" class="O"/>
<rect x="880" y="6" width="2" height="12.5" class="K"/>
<rect x="883.5" y="6" width="2.5" height="12.5" class="O"/>
<rect x="887" y="6" width="1.5" height="12.5" class="K"/>
<path class="lg" d="M354.7 6v12.5M525 6v12.5M543.4 6v12.5M650 6v12.5M793.8 6v12.5M832.5 6v12.5M837.5 6v12.5M843 6v12.5M906.7 6v12.5M953 6v12.5"/>
<path class="lbl" d="M817 0v24.5M856.8 0v24.5"/>
</g>

<!-- Row 13 TERT -->
<g transform="translate(0,430.55)">
<rect class="bg" x="188" width="795" height="24.5"/>
<g class="C">
<rect x="188" y="6" width="49.5" height="12.5"/><rect x="238.5" y="6" width="23" height="12.5"/><rect x="262.5" y="6" width="18" height="12.5"/><rect x="281.5" y="6" width="12.5" height="12.5"/><rect x="295" y="6" width="35" height="12.5"/><rect x="334" y="6" width="17" height="12.5"/><rect x="352" y="6" width="8" height="12.5"/><rect x="361" y="6" width="21" height="12.5"/><rect x="385" y="6" width="67" height="12.5"/><rect x="454.5" y="6" width="20.5" height="12.5"/><rect x="476" y="6" width="5" height="12.5"/><rect x="482" y="6" width="16" height="12.5"/><rect x="506" y="6" width="1.5" height="12.5"/><rect x="508.5" y="6" width="1.5" height="12.5"/><rect x="511" y="6" width="49" height="12.5"/><rect x="566" y="6" width="13" height="12.5"/><rect x="580" y="6" width="4.5" height="12.5"/><rect x="585.5" y="6" width="8.5" height="12.5"/>
<rect x="596" y="6" width="21" height="12.5"/><rect x="618" y="6" width="18" height="12.5"/><rect x="637" y="6" width="24" height="12.5"/><rect x="664" y="6" width="24" height="12.5"/>
<rect x="690" y="6" width="24.5" height="12.5"/><rect x="715.5" y="6" width="27.5" height="12.5"/><rect x="744" y="6" width="18" height="12.5"/>
<rect x="764" y="6" width="12" height="12.5"/><rect x="779" y="6" width="48" height="12.5"/>
<rect x="830" y="6" width="4" height="12.5"/><rect x="835.5" y="6" width="20" height="12.5"/><rect x="856.5" y="6" width="19.2" height="12.5"/><rect x="881" y="6" width="2" height="12.5"/><rect x="884" y="6" width="2" height="12.5"/><rect x="887" y="6" width="4" height="12.5"/>
<rect x="894" y="6" width="25" height="12.5"/><rect x="921" y="6" width="27" height="12.5"/><rect x="950" y="6" width="31.5" height="12.5"/>
</g>
<rect x="329.5" width="2" height="24.5" class="R"/>
<rect x="497" width="2" height="24.5" class="R"/>
<rect x="675" width="2" height="24.5" class="R"/>
<path class="lr" d="M245.5 0v24.5M266 0v24.5M378.8 0v24.5M414 0v24.5M629 0v24.5M722.5 0v24.5M770 0v24.5M907.8 0v24.5M928 0v24.5M961 0v24.5"/>
</g>

<!-- section separators -->
<g fill="#fff">
<rect x="594" y="74" width="2" height="383"/><rect x="688" y="74" width="2" height="383"/><rect x="762" y="74" width="2" height="383"/><rect x="827" y="74" width="2" height="383"/><rect x="892" y="74" width="2" height="383"/><rect x="919" y="74" width="2" height="383"/><rect x="948" y="74" width="2" height="383"/>
</g>

<!-- alterations legend -->
<text x="100" y="495" font-size="12" font-weight="bold" fill="#111">Alterations</text>
<rect x="181.5" y="481" width="20" height="20" fill="#3c54a5"/>
<text x="211.8" y="496" font-size="14.5" fill="#222">Deep deletion</text>
<rect x="307.5" y="481" width="20" height="20" fill="#c8c8c8"/><rect x="307.5" y="487.5" width="20" height="8" class="C"/>
<text x="335.7" y="496" font-size="14.5" fill="#222">Promoter</text>
<rect x="411.5" y="481" width="20" height="20" fill="#c8c8c8"/><rect x="411.5" y="487.5" width="20" height="8" fill="#168a3a"/>
<text x="439" y="496" font-size="14.5" fill="#222">Missense</text>
<rect x="515.5" y="481" width="20" height="20" fill="#c8c8c8"/><rect x="515.5" y="487.5" width="20" height="8" class="O"/>
<text x="543.4" y="496" font-size="14.5" fill="#222">Splice</text>
<rect x="600" y="481" width="21" height="20" fill="#e8222a"/>
<text x="629" y="496" font-size="14.5" fill="#222">Amplification</text>
<rect x="726" y="481" width="21" height="20" fill="#c8c8c8"/><rect x="726" y="487.5" width="21" height="8" fill="#b84fb0"/>
<text x="754.5" y="496" font-size="14.5" fill="#222">Fusion</text>
<rect x="829" y="481" width="21" height="20" fill="#c8c8c8"/><rect x="829" y="487.5" width="21" height="8" fill="#000"/>
<text x="858.5" y="496" font-size="14.5" fill="#222">Truncating</text>
<rect x="935" y="481" width="21" height="20" fill="#c8c8c8"/><rect x="935" y="487.5" width="21" height="8" fill="#9b3b22"/>
<text x="963.6" y="496" font-size="14.5" fill="#222">In-frame</text>

<!-- ============ PANEL B ============ -->
<text x="31" y="588" font-size="19" font-weight="bold" fill="#111">B.</text>

<!-- group headers -->
<g fill="#222" text-anchor="middle">
<text x="241" y="616" font-size="11.5" font-weight="bold">Kinase</text>
<text x="413" y="616" font-size="14.5" textLength="170" lengthAdjust="spacingAndGlyphs">Chromatin/histone modifier</text>
<text x="537" y="603" font-size="14.5">Transcription</text>
<text x="542" y="620" font-size="14.5">factor</text>
<text x="637.5" y="617" font-size="14.5">Cell cycle</text>
<text x="777.6" y="616" font-size="14.5">DNA damage repair</text>
<text x="877" y="616" font-size="11.5" font-weight="bold">Other</text>
</g>
<g stroke="#555" stroke-width="1.5">
<line x1="163" y1="627" x2="311" y2="627"/><line x1="318" y1="627" x2="510" y2="627"/><line x1="518" y1="627" x2="568" y2="627"/><line x1="573" y1="627" x2="723" y2="627"/><line x1="731" y1="627" x2="834" y2="627"/><line x1="839" y1="627" x2="915" y2="627"/>
</g>

<!-- gene labels (rotated) -->
<g font-size="15" fill="#4d4d4d">
<text transform="translate(178.9,690) rotate(-90)">ERBB2</text>
<text transform="translate(204.2,690) rotate(-90)">FGFR3</text>
<text transform="translate(229.5,690) rotate(-90)">PIK3CA</text>
<text transform="translate(254.8,690) rotate(-90)">TSC1</text>
<text transform="translate(280.1,690) rotate(-90)">KRAS</text>
<text transform="translate(305.4,690) rotate(-90)">PTEN</text>
<text transform="translate(334.7,690) rotate(-90)">ARID1A</text>
<text transform="translate(360,690) rotate(-90)">KDM6A</text>
<text transform="translate(385.3,690) rotate(-90)">KMT2D</text>
<text transform="translate(410.6,690) rotate(-90)">CREBBP</text>
<text transform="translate(435.9,690) rotate(-90)">STAG2</text>
<text transform="translate(461.2,690) rotate(-90)">KMT2C</text>
<text transform="translate(486.5,690) rotate(-90)">EP300</text>
<text transform="translate(511.8,690) rotate(-90)">KMT2A</text>
<text transform="translate(541.1,690) rotate(-90)">GATA3</text>
<text transform="translate(566.4,690) rotate(-90)">FOXA1</text>
<text transform="translate(595.7,690) rotate(-90)">TP53</text>
<text transform="translate(621,690) rotate(-90)">CDKN2A</text>
<text transform="translate(646.3,690) rotate(-90)">RB1</text>
<text transform="translate(671.6,690) rotate(-90)">CCND1</text>
<text transform="translate(696.9,690) rotate(-90)">CDKN1A</text>
<text transform="translate(722.2,690) rotate(-90)">MDM2</text>
<text transform="translate(751.5,690) rotate(-90)">ATM</text>
<text transform="translate(776.8,690) rotate(-90)">BRCA2</text>
<text transform="translate(802.1,690) rotate(-90)">ATR</text>
<text transform="translate(827.4,690) rotate(-90)">BRCA1</text>
<text transform="translate(856.7,690) rotate(-90)">TERT</text>
<text transform="translate(882,690) rotate(-90)">RHOA</text>
<text transform="translate(907.3,690) rotate(-90)">CDH1</text>
</g>
<path stroke="#333" stroke-width="2.4" fill="none" d="M173.65 697.5v5M198.95 697.5v5M224.25 697.5v5M249.55 697.5v5M274.85 697.5v5M300.15 697.5v5M329.45 697.5v5M354.75 697.5v5M380.05 697.5v5M405.35 697.5v5M430.65 697.5v5M455.95 697.5v5M481.25 697.5v5M506.55 697.5v5M535.85 697.5v5M561.15 697.5v5M590.45 697.5v5M615.75 697.5v5M641.05 697.5v5M666.35 697.5v5M691.65 697.5v5M716.95 697.5v5M746.25 697.5v5M771.55 697.5v5M796.85 697.5v5M822.15 697.5v5M851.45 697.5v5M876.75 697.5v5M902.05 697.5v5"/>

<!-- samples column -->
<text x="153" y="696" font-size="13" font-weight="bold" fill="#111" text-anchor="end"># samples</text>
<rect x="130" y="705" width="26.5" height="310" fill="#a9d8f2"/>
<g font-size="11" font-weight="bold" fill="#222" text-anchor="middle">
<text x="143" y="722">404</text><text x="143" y="751.5">86</text><text x="143" y="776.5">148</text><text x="143" y="801.5">39</text><text x="143" y="831.5">89</text><text x="143" y="856.5">71</text><text x="143" y="881.5">61</text><text x="143" y="906.5">61</text><text x="143" y="931.5">25</text><text x="143" y="956.5">26</text><text x="143" y="981.5">29</text><text x="143" y="1006.5">21</text>
</g>

<!-- row labels -->
<g font-size="15.3" fill="#4d4d4d" text-anchor="end">
<text x="117" y="723.5">NOS</text><text x="117" y="753">NI−LGPUC</text><text x="117" y="778">NI−HGPUC</text><text x="117" y="803">CIS</text><text x="117" y="833">Squamous</text><text x="117" y="858">Micropapillary</text><text x="117" y="883">Neuroendocrine</text><text x="117" y="908">Plasmacytoid</text><text x="117" y="933">Nested</text><text x="117" y="958">Sarcomatoid</text><text x="117" y="983">Glandular</text><text x="117" y="1008">Adenocarcinoma</text>
</g>
<path stroke="#333" stroke-width="2.6" fill="none" d="M120 718h6M120 747.5h6M120 772.5h6M120 797.5h6M120 827.5h6M120 852.5h6M120 877.5h6M120 902.5h6M120 927.5h6M120 952.5h6M120 977.5h6M120 1002.5h6"/>

<!-- NOS row -->
<g fill="#cfcfcf">
<rect x="161" y="705" width="151.8" height="26" rx="2"/><rect x="316.8" y="705" width="202.4" height="26" rx="2"/><rect x="523.2" y="705" width="50.6" height="26" rx="2"/><rect x="577.8" y="705" width="151.8" height="26" rx="2"/><rect x="733.6" y="705" width="101.2" height="26" rx="2"/><rect x="838.8" y="705" width="75.9" height="26" rx="2"/>
</g>
<text class="cn" y="722.5" text-anchor="middle"><tspan x="173.65">20</tspan><tspan x="198.95">17</tspan><tspan x="224.25">15</tspan><tspan x="249.55">9</tspan><tspan x="274.85">3</tspan><tspan x="300.15">2</tspan><tspan x="329.45">29</tspan><tspan x="354.75">27</tspan><tspan x="380.05">22</tspan><tspan x="405.35">11</tspan><tspan x="430.65">10</tspan><tspan x="455.95">9</tspan><tspan x="481.25">7</tspan><tspan x="506.55">7</tspan><tspan x="535.85">7</tspan><tspan x="561.15">5</tspan><tspan x="590.45">56</tspan><tspan x="615.75">25</tspan><tspan x="641.05">20</tspan><tspan x="666.35">13</tspan><tspan x="691.65">12</tspan><tspan x="716.95">10</tspan><tspan x="746.25">5</tspan><tspan x="771.55">4</tspan><tspan x="796.85">2</tspan><tspan x="822.15">2</tspan><tspan x="851.45">79</tspan><tspan x="876.75">3</tspan><tspan x="902.05">1</tspan></text>

<!-- NI-LGPUC -->
<g transform="translate(0,735)">
<rect x="161" width="25.5" height="25" class="n15"/><rect x="186.3" width="25.5" height="25" class="p2"/><rect x="211.6" width="25.5" height="25" class="p1"/><rect x="236.9" width="25.5" height="25" class="n05"/><rect x="262.2" width="25.5" height="25" class="p15"/><rect x="287.5" width="25.3" height="25" class="p05"/>
<rect x="316.8" width="25.5" height="25" class="n15"/><rect x="342.1" width="25.5" height="25" class="p05"/><rect x="392.7" width="25.5" height="25" class="n05"/><rect x="418" width="25.5" height="25" class="p15"/><rect x="443.3" width="25.5" height="25" class="p05"/><rect x="493.9" width="25.3" height="25" class="n3"/>
<rect x="523.2" width="25.5" height="25" class="n1"/><rect x="548.5" width="25.3" height="25" class="n2"/>
<rect x="577.8" width="25.5" height="25" class="n3"/><rect x="653.7" width="25.5" height="25" class="n4"/><rect x="679" width="25.5" height="25" class="p1"/><rect x="704.3" width="25.3" height="25" class="n2"/>
<rect x="809.5" width="25.3" height="25" class="n1"/>
<rect x="864.1" width="25.5" height="25" class="n15"/><rect x="889.4" width="25.3" height="25" class="p1"/>
<text class="cn" y="17" text-anchor="middle"><tspan x="173.65">6</tspan><tspan x="198.95">79</tspan><tspan x="224.25">31</tspan><tspan x="249.55">7</tspan><tspan x="274.85">10</tspan><tspan x="300.15">3</tspan><tspan x="329.45">10</tspan><tspan x="354.75">41</tspan><tspan x="380.05">22</tspan><tspan x="405.35">9</tspan><tspan x="430.65">26</tspan><tspan x="455.95">13</tspan><tspan x="481.25">7</tspan><tspan x="506.55">1</tspan><tspan x="535.85">3</tspan><tspan x="561.15">1</tspan><tspan x="590.45">6</tspan><tspan x="615.75">28</tspan><tspan x="666.35">1</tspan><tspan x="691.65">21</tspan><tspan x="716.95">2</tspan><tspan x="746.25">5</tspan><tspan x="822.15">1</tspan><tspan x="851.45">67</tspan><tspan x="876.75">1</tspan><tspan x="902.05">2</tspan></text>
</g>

<!-- NI-HGPUC -->
<g transform="translate(0,760)">
<rect x="161" width="25.5" height="25" class="n1"/><rect x="186.3" width="25.5" height="25" class="p15"/><rect x="211.6" width="25.5" height="25" class="p05"/><rect x="236.9" width="25.5" height="25" class="n05"/><rect x="262.2" width="25.5" height="25" class="p15"/>
<rect x="316.8" width="25.5" height="25" class="n05"/><rect x="342.1" width="25.5" height="25" class="p05"/><rect x="392.7" width="25.5" height="25" class="p05"/><rect x="418" width="25.5" height="25" class="p05"/><rect x="493.9" width="25.3" height="25" class="p05"/>
<rect x="523.2" width="25.5" height="25" class="p05"/>
<rect x="577.8" width="25.5" height="25" class="n2"/><rect x="603.1" width="25.5" height="25" class="p05"/><rect x="628.4" width="25.5" height="25" class="n15"/><rect x="679" width="25.5" height="25" class="p05"/>
<rect x="758.9" width="25.5" height="25" class="n05"/><rect x="809.5" width="25.3" height="25" class="n1"/>
<rect x="864.1" width="25.5" height="25" class="n05"/>
<text class="cn" y="17" text-anchor="middle"><tspan x="173.65">10</tspan><tspan x="198.95">55</tspan><tspan x="224.25">25</tspan><tspan x="249.55">7</tspan><tspan x="274.85">8</tspan><tspan x="300.15">2</tspan><tspan x="329.45">22</tspan><tspan x="354.75">33</tspan><tspan x="380.05">22</tspan><tspan x="405.35">18</tspan><tspan x="430.65">16</tspan><tspan x="455.95">10</tspan><tspan x="481.25">8</tspan><tspan x="506.55">10</tspan><tspan x="535.85">10</tspan><tspan x="561.15">5</tspan><tspan x="590.45">16</tspan><tspan x="615.75">32</tspan><tspan x="641.05">6</tspan><tspan x="666.35">15</tspan><tspan x="691.65">16</tspan><tspan x="716.95">10</tspan><tspan x="746.25">5</tspan><tspan x="771.55">3</tspan><tspan x="796.85">2</tspan><tspan x="822.15">1</tspan><tspan x="851.45">81</tspan><tspan x="876.75">2</tspan><tspan x="902.05">1</tspan></text>
</g>

<!-- CIS -->
<g transform="translate(0,785)">
<rect x="161" width="25.5" height="25" class="n05"/><rect x="186.3" width="25.5" height="25" class="n2"/><rect x="211.6" width="25.5" height="25" class="n1"/><rect x="236.9" width="25.5" height="25" class="n1"/>
<rect x="367.4" width="25.5" height="25" class="n3"/><rect x="418" width="25.5" height="25" class="n1"/><rect x="443.3" width="25.5" height="25" class="n1"/>
<rect x="577.8" width="25.5" height="25" class="n05"/><rect x="628.4" width="25.5" height="25" class="n1"/><rect x="653.7" width="25.5" height="25" class="n15"/><rect x="679" width="25.5" height="25" class="n15"/><rect x="704.3" width="25.3" height="25" class="n05"/>
<rect x="838.8" width="25.5" height="25" class="n05"/>
<text class="cn" y="17" text-anchor="middle"><tspan x="173.65">13</tspan><tspan x="198.95">5</tspan><tspan x="224.25">8</tspan><tspan x="249.55">5</tspan><tspan x="329.45">28</tspan><tspan x="354.75">23</tspan><tspan x="380.05">3</tspan><tspan x="405.35">10</tspan><tspan x="430.65">5</tspan><tspan x="455.95">5</tspan><tspan x="590.45">36</tspan><tspan x="641.05">10</tspan><tspan x="666.35">5</tspan><tspan x="691.65">5</tspan><tspan x="716.95">8</tspan><tspan x="851.45">54</tspan><tspan x="876.75">3</tspan></text>
</g>

<!-- Squamous -->
<g transform="translate(0,815)">
<rect x="161" width="25.5" height="25" class="n1"/><rect x="211.6" width="25.5" height="25" class="p1"/><rect x="236.9" width="25.5" height="25" class="n05"/><rect x="262.2" width="25.5" height="25" class="p1"/><rect x="287.5" width="25.3" height="25" class="p2"/>
<rect x="316.8" width="25.5" height="25" class="n05"/><rect x="367.4" width="25.5" height="25" class="p05"/><rect x="392.7" width="25.5" height="25" class="n05"/><rect x="468.6" width="25.5" height="25" class="p1"/>
<rect x="523.2" width="25.5" height="25" class="n2"/><rect x="548.5" width="25.3" height="25" class="n05"/>
<rect x="577.8" width="25.5" height="25" class="p05"/><rect x="603.1" width="25.5" height="25" class="p1"/><rect x="653.7" width="25.5" height="25" class="p1"/><rect x="679" width="25.5" height="25" class="n1"/><rect x="704.3" width="25.3" height="25" class="n05"/>
<rect x="733.6" width="25.5" height="25" class="n05"/><rect x="758.9" width="25.5" height="25" class="n2"/><rect x="784.2" width="25.5" height="25" class="p15"/>
<rect x="864.1" width="25.5" height="25" class="n05"/>
<text class="cn" y="17" text-anchor="middle"><tspan x="173.65">10</tspan><tspan x="198.95">18</tspan><tspan x="224.25">27</tspan><tspan x="249.55">6</tspan><tspan x="274.85">6</tspan><tspan x="300.15">9</tspan><tspan x="329.45">18</tspan><tspan x="354.75">31</tspan><tspan x="380.05">28</tspan><tspan x="405.35">8</tspan><tspan x="430.65">11</tspan><tspan x="455.95">9</tspan><tspan x="481.25">12</tspan><tspan x="506.55">6</tspan><tspan x="535.85">2</tspan><tspan x="561.15">4</tspan><tspan x="590.45">70</tspan><tspan x="615.75">46</tspan><tspan x="641.05">21</tspan><tspan x="666.35">22</tspan><tspan x="691.65">6</tspan><tspan x="716.95">8</tspan><tspan x="746.25">3</tspan><tspan x="771.55">1</tspan><tspan x="796.85">6</tspan><tspan x="851.45">74</tspan><tspan x="876.75">2</tspan><tspan x="902.05">1</tspan></text>
</g>

<!-- Micropapillary -->
<g transform="translate(0,840)">
<rect x="161" width="25.5" height="25" class="p1"/><rect x="186.3" width="25.5" height="25" class="n4"/><rect x="236.9" width="25.5" height="25" class="n05"/><rect x="262.2" width="25.5" height="25" class="n15"/><rect x="287.5" width="25.3" height="25" class="n1"/>
<rect x="316.8" width="25.5" height="25" class="p05"/><rect x="342.1" width="25.5" height="25" class="n1"/><rect x="367.4" width="25.5" height="25" class="n15"/><rect x="392.7" width="25.5" height="25" class="n05"/><rect x="418" width="25.5" height="25" class="n15"/><rect x="443.3" width="25.5" height="25" class="n1"/><rect x="468.6" width="25.5" height="25" class="n1"/>
<rect x="548.5" width="25.3" height="25" class="p05"/>
<rect x="577.8" width="25.5" height="25" class="p05"/><rect x="603.1" width="25.5" height="25" class="n15"/><rect x="628.4" width="25.5" height="25" class="p1"/><rect x="653.7" width="25.5" height="25" class="n1"/><rect x="679" width="25.5" height="25" class="p05"/><rect x="704.3" width="25.3" height="25" class="n05"/>
<rect x="733.6" width="25.5" height="25" class="n05"/><rect x="758.9" width="25.5" height="25" class="n05"/><rect x="784.2" width="25.5" height="25" class="p05"/><rect x="809.5" width="25.3" height="25" class="p05"/>
<text class="cn" y="17" text-anchor="middle"><tspan x="173.65">37</tspan><tspan x="198.95">1</tspan><tspan x="224.25">13</tspan><tspan x="249.55">7</tspan><tspan x="274.85">1</tspan><tspan x="300.15">1</tspan><tspan x="329.45">42</tspan><tspan x="354.75">13</tspan><tspan x="380.05">8</tspan><tspan x="405.35">7</tspan><tspan x="430.65">3</tspan><tspan x="455.95">4</tspan><tspan x="481.25">4</tspan><tspan x="535.85">8</tspan><tspan x="561.15">8</tspan><tspan x="590.45">68</tspan><tspan x="615.75">10</tspan><tspan x="641.05">44</tspan><tspan x="666.35">7</tspan><tspan x="691.65">15</tspan><tspan x="716.95">8</tspan><tspan x="746.25">4</tspan><tspan x="771.55">3</tspan><tspan x="796.85">3</tspan><tspan x="822.15">3</tspan><tspan x="851.45">92</tspan></text>
</g>

<!-- Neuroendocrine -->
<g transform="translate(0,865)">
<rect x="161" width="25.5" height="25" class="n15"/><rect x="236.9" width="25.5" height="25" class="n1"/><rect x="262.2" width="25.5" height="25" class="p1"/><rect x="287.5" width="25.3" height="25" class="p3"/>
<rect x="316.8" width="25.5" height="25" class="n1"/><rect x="342.1" width="25.5" height="25" class="n2"/><rect x="418" width="25.5" height="25" class="n15"/><rect x="443.3" width="25.5" height="25" class="n1"/><rect x="468.6" width="25.5" height="25" class="p05"/>
<rect x="523.2" width="25.5" height="25" class="n1"/>
<rect x="577.8" width="25.5" height="25" class="p1"/><rect x="603.1" width="25.5" height="25" class="n2"/><rect x="628.4" width="25.5" height="25" class="p2"/><rect x="653.7" width="25.5" height="25" class="n2"/><rect x="679" width="25.5" height="25" class="p05"/>
<rect x="733.6" width="25.5" height="25" class="n05"/><rect x="758.9" width="25.5" height="25" class="n05"/>
<rect x="864.1" width="25.5" height="25" class="p05"/><rect x="889.4" width="25.3" height="25" class="p15"/>
<text class="cn" y="17" text-anchor="middle"><tspan x="173.65">7</tspan><tspan x="224.25">13</tspan><tspan x="249.55">5</tspan><tspan x="274.85">7</tspan><tspan x="300.15">15</tspan><tspan x="329.45">15</tspan><tspan x="354.75">8</tspan><tspan x="380.05">23</tspan><tspan x="405.35">13</tspan><tspan x="430.65">3</tspan><tspan x="455.95">5</tspan><tspan x="481.25">11</tspan><tspan x="506.55">8</tspan><tspan x="535.85">3</tspan><tspan x="561.15">5</tspan><tspan x="590.45">95</tspan><tspan x="615.75">5</tspan><tspan x="641.05">72</tspan><tspan x="666.35">3</tspan><tspan x="691.65">16</tspan><tspan x="746.25">3</tspan><tspan x="771.55">3</tspan><tspan x="796.85">2</tspan><tspan x="822.15">2</tspan><tspan x="851.45">89</tspan><tspan x="876.75">5</tspan><tspan x="902.05">3</tspan></text>
</g>

<!-- Plasmacytoid -->
<g transform="translate(0,890)">
<rect x="161" width="25.5" height="25" class="n1"/><rect x="186.3" width="25.5" height="25" class="n2"/><rect x="211.6" width="25.5" height="25" class="p05"/><rect x="262.2" width="25.5" height="25" class="n05"/><rect x="287.5" width="25.3" height="25" class="p15"/>
<rect x="342.1" width="25.5" height="25" class="n15"/><rect x="367.4" width="25.5" height="25" class="n2"/><rect x="392.7" width="25.5" height="25" class="n2"/><rect x="443.3" width="25.5" height="25" class="n15"/><rect x="468.6" width="25.5" height="25" class="p05"/><rect x="493.9" width="25.3" height="25" class="p05"/>
<rect x="603.1" width="25.5" height="25" class="n2"/><rect x="628.4" width="25.5" height="25" class="p1"/><rect x="679" width="25.5" height="25" class="p05"/><rect x="704.3" width="25.3" height="25" class="n15"/>
<rect x="838.8" width="25.5" height="25" class="n05"/><rect x="889.4" width="25.3" height="25" class="p6"/>
<text class="cn" y="17" text-anchor="middle"><tspan x="173.65">11</tspan><tspan x="198.95">5</tspan><tspan x="224.25">18</tspan><tspan x="249.55">8</tspan><tspan x="274.85">2</tspan><tspan x="300.15">5</tspan><tspan x="329.45">28</tspan><tspan x="354.75">10</tspan><tspan x="380.05">5</tspan><tspan x="405.35">3</tspan><tspan x="455.95">3</tspan><tspan x="481.25">10</tspan><tspan x="506.55">10</tspan><tspan x="590.45">66</tspan><tspan x="615.75">7</tspan><tspan x="641.05">38</tspan><tspan x="691.65">18</tspan><tspan x="716.95">3</tspan><tspan x="746.25">5</tspan><tspan x="851.45">64</tspan><tspan x="902.05" fill="#7a0000">69</tspan></text>
</g>

<!-- Nested -->
<g transform="translate(0,915)">
<rect x="161" width="25.5" height="25" class="n05"/><rect x="211.6" width="25.5" height="25" class="n05"/><rect x="236.9" width="25.5" height="25" class="p1"/>
<rect x="367.4" width="25.5" height="25" class="n15"/><rect x="392.7" width="25.5" height="25" class="n15"/><rect x="418" width="25.5" height="25" class="n15"/><rect x="468.6" width="25.5" height="25" class="n1"/><rect x="493.9" width="25.3" height="25" class="n1"/>
<rect x="548.5" width="25.3" height="25" class="n05"/>
<rect x="577.8" width="25.5" height="25" class="n05"/><rect x="653.7" width="25.5" height="25" class="p1"/><rect x="679" width="25.5" height="25" class="p05"/><rect x="704.3" width="25.3" height="25" class="p1"/>
<rect x="733.6" width="25.5" height="25" class="p05"/>
<rect x="864.1" width="25.5" height="25" class="p2"/><rect x="889.4" width="25.3" height="25" class="p2"/>
<text class="cn" y="17" text-anchor="middle"><tspan x="173.65">12</tspan><tspan x="198.95">20</tspan><tspan x="224.25">12</tspan><tspan x="249.55">20</tspan><tspan x="329.45">28</tspan><tspan x="354.75">24</tspan><tspan x="380.05">8</tspan><tspan x="405.35">4</tspan><tspan x="430.65">4</tspan><tspan x="481.25">4</tspan><tspan x="506.55">4</tspan><tspan x="561.15">4</tspan><tspan x="590.45">36</tspan><tspan x="615.75">28</tspan><tspan x="666.35">28</tspan><tspan x="691.65">16</tspan><tspan x="716.95">20</tspan><tspan x="746.25">8</tspan><tspan x="771.55">4</tspan><tspan x="851.45">76</tspan><tspan x="876.75">16</tspan><tspan x="902.05">4</tspan></text>
</g>

<!-- Sarcomatoid -->
<g transform="translate(0,940)">
<rect x="161" width="25.5" height="25" class="n15"/><rect x="186.3" width="25.5" height="25" class="n2"/><rect x="211.6" width="25.5" height="25" class="n1"/><rect x="236.9" width="25.5" height="25" class="n1"/><rect x="262.2" width="25.5" height="25" class="p15"/><rect x="287.5" width="25.3" height="25" class="p3"/>
<rect x="316.8" width="25.5" height="25" class="n15"/><rect x="342.1" width="25.5" height="25" class="n05"/><rect x="367.4" width="25.5" height="25" class="p05"/><rect x="392.7" width="25.5" height="25" class="n05"/><rect x="418" width="25.5" height="25" class="n15"/><rect x="443.3" width="25.5" height="25" class="n1"/><rect x="468.6" width="25.5" height="25" class="n1"/><rect x="493.9" width="25.3" height="25" class="p1"/>
<rect x="577.8" width="25.5" height="25" class="p05"/><rect x="603.1" width="25.5" height="25" class="p05"/><rect x="628.4" width="25.5" height="25" class="p05"/><rect x="653.7" width="25.5" height="25" class="n05"/><rect x="679" width="25.5" height="25" class="n05"/>
<rect x="733.6" width="25.5" height="25" class="n05"/>
<text class="cn" y="17" text-anchor="middle"><tspan x="173.65">8</tspan><tspan x="198.95">4</tspan><tspan x="224.25">8</tspan><tspan x="249.55">4</tspan><tspan x="274.85">8</tspan><tspan x="300.15">12</tspan><tspan x="329.45">12</tspan><tspan x="354.75">19</tspan><tspan x="380.05">35</tspan><tspan x="405.35">8</tspan><tspan x="430.65">4</tspan><tspan x="455.95">4</tspan><tspan x="481.25">4</tspan><tspan x="506.55">12</tspan><tspan x="590.45">69</tspan><tspan x="615.75">38</tspan><tspan x="641.05">31</tspan><tspan x="666.35">8</tspan><tspan x="691.65">8</tspan><tspan x="746.25">4</tspan><tspan x="771.55">4</tspan><tspan x="851.45">85</tspan></text>
</g>

<!-- Glandular -->
<g transform="translate(0,965)">
<rect x="161" width="25.5" height="25" class="p05"/><rect x="236.9" width="25.5" height="25" class="n05"/><rect x="262.2" width="25.5" height="25" class="p1"/><rect x="287.5" width="25.3" height="25" class="p2"/>
<rect x="316.8" width="25.5" height="25" class="n1"/><rect x="342.1" width="25.5" height="25" class="n15"/><rect x="392.7" width="25.5" height="25" class="n2"/><rect x="443.3" width="25.5" height="25" class="n05"/><rect x="493.9" width="25.3" height="25" class="n1"/>
<rect x="523.2" width="25.5" height="25" class="p05"/><rect x="548.5" width="25.3" height="25" class="p05"/>
<rect x="577.8" width="25.5" height="25" class="p05"/><rect x="603.1" width="25.5" height="25" class="n15"/><rect x="628.4" width="25.5" height="25" class="p15"/><rect x="653.7" width="25.5" height="25" class="n1"/><rect x="704.3" width="25.3" height="25" class="n15"/>
<rect x="733.6" width="25.5" height="25" class="n05"/><rect x="758.9" width="25.5" height="25" class="p1"/>
<rect x="889.4" width="25.3" height="25" class="p15"/>
<text class="cn" y="17" text-anchor="middle"><tspan x="173.65">28</tspan><tspan x="224.25">17</tspan><tspan x="249.55">7</tspan><tspan x="274.85">7</tspan><tspan x="300.15">10</tspan><tspan x="329.45">17</tspan><tspan x="354.75">10</tspan><tspan x="380.05">21</tspan><tspan x="405.35">3</tspan><tspan x="455.95">7</tspan><tspan x="481.25">7</tspan><tspan x="506.55">3</tspan><tspan x="535.85">10</tspan><tspan x="561.15">7</tspan><tspan x="590.45">79</tspan><tspan x="615.75">10</tspan><tspan x="641.05">52</tspan><tspan x="666.35">7</tspan><tspan x="691.65">14</tspan><tspan x="716.95">3</tspan><tspan x="746.25">3</tspan><tspan x="771.55">7</tspan><tspan x="851.45">79</tspan><tspan x="902.05">3</tspan></text>
</g>

<!-- Adenocarcinoma -->
<g transform="translate(0,990)">
<rect x="161" width="25.5" height="25" class="n2"/><rect x="211.6" width="25.5" height="25" class="p1"/><rect x="262.2" width="25.5" height="25" class="p35"/>
<rect x="523.2" width="25.5" height="25" class="n05"/>
<rect x="577.8" width="25.5" height="25" class="p05"/><rect x="603.1" width="25.5" height="25" class="n2"/>
<text class="cn" y="17" text-anchor="middle"><tspan x="173.65">5</tspan><tspan x="224.25">29</tspan><tspan x="274.85">38</tspan><tspan x="535.85">5</tspan><tspan x="590.45">81</tspan><tspan x="615.75">5</tspan><tspan x="666.35">14</tspan></text>
</g>

<!-- I2 row -->
<text x="78" y="1041" text-anchor="middle" font-size="15" font-weight="bold" fill="#111">I<tspan font-size="9" dy="-6">2</tspan><tspan dy="6"> index (%)</tspan></text>
<g transform="translate(0,1020)">
<rect x="161" width="25.5" height="30" fill="#77d052"/><rect x="186.3" width="25.5" height="30" fill="#80d34d"/><rect x="211.6" width="25.5" height="30" fill="#2e6f8e"/><rect x="236.9" width="25.5" height="30" fill="#440154"/><rect x="262.2" width="25.5" height="30" fill="#70cd57"/><rect x="287.5" width="25.3" height="30" fill="#1f9f88"/>
<rect x="316.8" width="25.5" height="30" fill="#7bd150"/><rect x="342.1" width="25.5" height="30" fill="#62c965"/><rect x="367.4" width="25.5" height="30" fill="#87d549"/><rect x="392.7" width="25.5" height="30" fill="#440154"/><rect x="418" width="25.5" height="30" fill="#23898e"/><rect x="443.3" width="25.5" height="30" fill="#440154"/><rect x="468.6" width="25.5" height="30" fill="#47186a"/><rect x="493.9" width="25.3" height="30" fill="#20938c"/>
<rect x="523.2" width="25.5" height="30" fill="#297a8e"/><rect x="548.5" width="25.3" height="30" fill="#35608d"/>
<rect x="577.8" width="25.5" height="30" fill="#a8db34"/><rect x="603.1" width="25.5" height="30" fill="#cbe11e"/><rect x="628.4" width="25.5" height="30" fill="#ebe51b"/><rect x="653.7" width="25.5" height="30" fill="#8ed645"/><rect x="679" width="25.5" height="30" fill="#21908d"/><rect x="704.3" width="25.3" height="30" fill="#29af7f"/>
<rect x="733.6" width="101.2" height="30" fill="#440154"/>
<rect x="838.8" width="25.5" height="30" fill="#f5e61f"/><rect x="864.1" width="25.5" height="30" fill="#218e8d"/><rect x="889.4" width="25.3" height="30" fill="#fde725"/>
<text class="i2" y="20" text-anchor="middle" fill="#111"><tspan x="173.65">75</tspan><tspan x="198.95">77</tspan><tspan x="274.85">74</tspan><tspan x="300.15">53</tspan><tspan x="329.45">76</tspan><tspan x="354.75">72</tspan><tspan x="380.05">78</tspan><tspan x="590.45">83</tspan><tspan x="615.75">88</tspan><tspan x="641.05">93</tspan><tspan x="666.35">79</tspan><tspan x="716.95">59</tspan><tspan x="851.45">94</tspan><tspan x="876.75">47</tspan><tspan x="902.05">95</tspan></text>
<text class="i2" y="20" text-anchor="middle" fill="#fff"><tspan x="224.25">35</tspan><tspan x="249.55">0</tspan><tspan x="405.35">0</tspan><tspan x="430.65">46</tspan><tspan x="455.95">0</tspan><tspan x="481.25">7</tspan><tspan x="506.55">49</tspan><tspan x="535.85">39</tspan><tspan x="561.15">29</tspan><tspan x="691.65">48</tspan><tspan x="746.25">0</tspan><tspan x="771.55">0</tspan><tspan x="796.85">0</tspan><tspan x="822.15">0</tspan></text>
</g>

<!-- right legends -->
<g font-size="14" font-weight="bold" fill="#111">
<text x="953" y="705">Alteration</text>
<text x="953" y="722">frequency in</text>
<text x="953" y="739">NOS (%)</text>
<text x="958" y="802">Alteration</text>
<text x="960" y="820">enrichment</text>
<text x="955" y="838">(log<tspan font-size="9" dy="4">2</tspan><tspan dy="-4"> FC)</tspan></text>
</g>
<rect x="962" y="848" width="30" height="144" fill="url(#enr)"/>
<path stroke="#fff" stroke-width="1" fill="none" d="M962 855.5h4M988 855.5h4M962 882.5h4M988 882.5h4M962 909.5h4M988 909.5h4M962 936.5h4M988 936.5h4M962 963.5h4M988 963.5h4M962 990.5h4M988 990.5h4"/>
<g font-size="15" fill="#333">
<text x="997" y="861">6</text><text x="997" y="888">4</text><text x="997" y="915">2</text><text x="997" y="942">0</text><text x="996" y="969">−2</text><text x="996" y="996">−4</text>
</g>

<rect x="952" y="1023" width="101" height="19" fill="url(#vir)"/>
<path stroke="#fff" stroke-width="1" fill="none" d="M978 1038v4M1005 1038v4M1032 1038v4"/>
<text x="1058" y="1038" font-size="13" font-weight="bold" fill="#111">I2</text>
<g font-size="12.5" fill="#333" text-anchor="middle">
<text x="977" y="1059">0</text><text x="998" y="1059">25</text><text x="1019" y="1059">50</text><text x="1041" y="1059">75</text><text x="1065" y="1059">100</text>
</g>
</svg>
</body></html>
